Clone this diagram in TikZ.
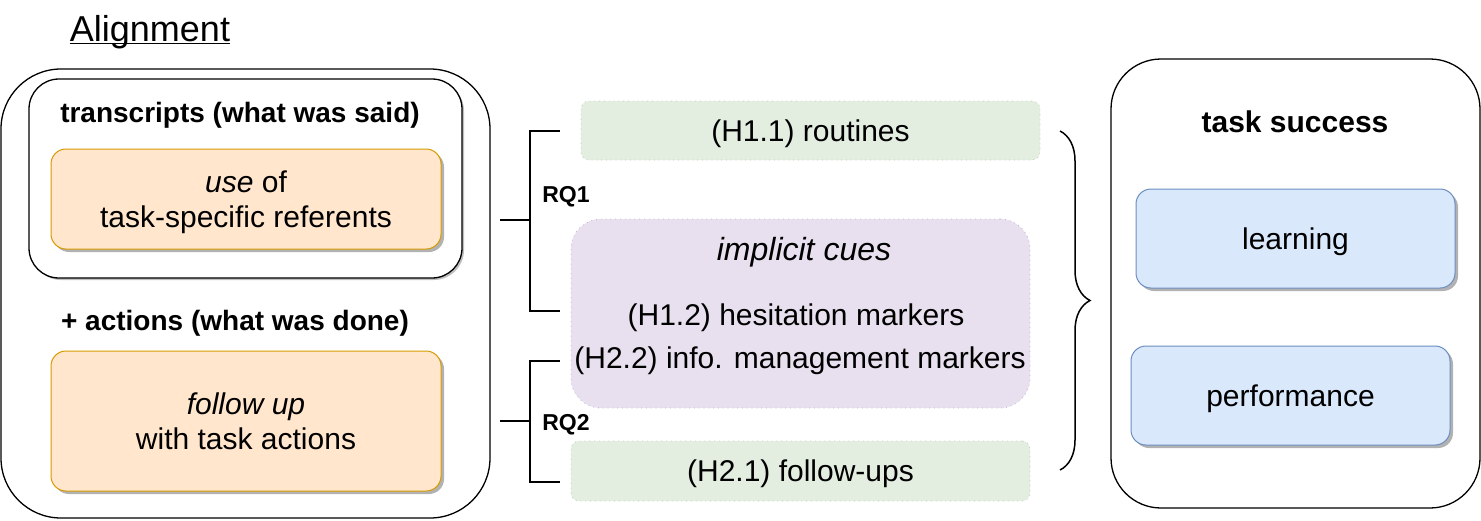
\documentclass[tikz,border=0pt]{standalone}
\usepackage{fontspec}
\setmainfont{Liberation Sans}
\usetikzlibrary{shadows,decorations.pathreplacing}
\definecolor{orangefill}{HTML}{FFE6CC}
\definecolor{orangeline}{HTML}{D79B00}
\definecolor{bluefill}{HTML}{DAE8FC}
\definecolor{blueline}{HTML}{6C8EBF}
\definecolor{greenfill}{HTML}{E3EEE1}
\definecolor{greenline}{HTML}{B5D1AA}
\definecolor{purplefill}{HTML}{E8E0EE}
\definecolor{purpleline}{HTML}{C2B2CF}
\tikzset{
  txt/.style={font=\fontsize{15}{17.5}\selectfont, align=center, text depth=0pt},
  head/.style={font=\bfseries\fontsize{14}{17}\selectfont, inner sep=0pt, text depth=0pt},
  rqlabel/.style={font=\bfseries\fontsize{11.5}{14}\selectfont, inner sep=0pt, text depth=0pt},
  boxshadow/.style={drop shadow={shadow xshift=1.5pt, shadow yshift=-1.5pt, opacity=0.3, fill=black}},
  groupbox/.style={draw, line width=0.65pt, fill=white},
  orangebox/.style={txt, draw=orangeline, fill=orangefill, line width=0.5pt, rounded corners=7.5pt, boxshadow, minimum width=195pt},
  bluebox/.style={txt, draw=blueline, fill=bluefill, line width=0.5pt, rounded corners=7.5pt, boxshadow, minimum width=159.5pt, minimum height=49.5pt},
  greenbox/.style={txt, draw=greenline, fill=greenfill, line width=0.4pt, dotted, rounded corners=4pt, minimum width=229.5pt, minimum height=29.5pt},
  purplebox/.style={draw=purpleline, fill=purplefill, line width=0.4pt, dotted, rounded corners=15pt, minimum width=229.5pt, minimum height=94.5pt},
  bracket/.style={line width=0.75pt}
}
\begin{document}
\begin{tikzpicture}[x=0.5pt, y=-0.5pt]
  \useasboundingbox (0,0) rectangle (1481,520);
  \node[font=\fontsize{18}{21}\selectfont, inner sep=0pt, anchor=base] (title) at (150,41) {Alignment};
  \draw[line width=0.8pt] ([yshift=-1.2pt]title.base west) -- ([yshift=-1.2pt]title.base east);
  \node[groupbox, rounded corners=30pt, minimum width=244.5pt, minimum height=224.5pt] (align) at (245.5,293.5) {};
  \node[groupbox, drop shadow={shadow xshift=1pt, shadow yshift=-1pt, opacity=0.25, fill=black}, rounded corners=15pt, minimum width=216.5pt, minimum height=99.5pt] (trans) at (245.5,178.5) {};
  \node[head] (transhead) at (240,112) {transcripts (what was said)};
  \node[orangebox, minimum height=50pt] (use) at (246,199) {\textit{use} of\\task-specific referents};
  \node[head] (acthead) at (235,320) {+ actions (what was done)};
  \node[orangebox, minimum height=70pt] (follow) at (246,421) {\textit{follow up}\\with task actions};

  \node[greenbox] (routines) at (810.5,130.5) {(H1.1) routines};
  \node[purplebox] (cues) at (800.5,313.5) {};
  \node[txt, font=\itshape\fontsize{16}{19}\selectfont] (cueshead) at (804,249) {implicit cues};
  \node[txt] (hesit) at (796,315) {(H1.2) hesitation markers};
  \node[txt] (infomgmt) at (800,358) {(H2.2) info. management markers};
  \node[greenbox, minimum height=30pt] (followups) at (800.5,471) {(H2.1) follow-ups};

  \draw[bracket] (500,220) -- (530,220);
  \draw[bracket] (560,131) -- (530,131) -- (530,311) -- (560,311);
  \node[rqlabel] (rq1) at (566,194) {RQ1};
  \draw[bracket] (500,421) -- (530,421);
  \draw[bracket] (560,361) -- (530,361) -- (530,482) -- (560,482);
  \node[rqlabel] (rq2) at (566,422) {RQ2};

  \draw[bracket, decorate, decoration={brace, amplitude=15pt}] (1060,131) -- (1060,470);

  \node[groupbox, rounded corners=25pt, minimum width=184.5pt, minimum height=224.5pt] (success) at (1295.5,283.5) {};
  \node[head, font=\bfseries\fontsize{15}{18}\selectfont] (successhead) at (1295,122) {task success};
  \node[bluebox] (learning) at (1295.5,238.5) {learning};
  \node[bluebox] (perf) at (1290.5,395.5) {performance};
\end{tikzpicture}
\end{document}
